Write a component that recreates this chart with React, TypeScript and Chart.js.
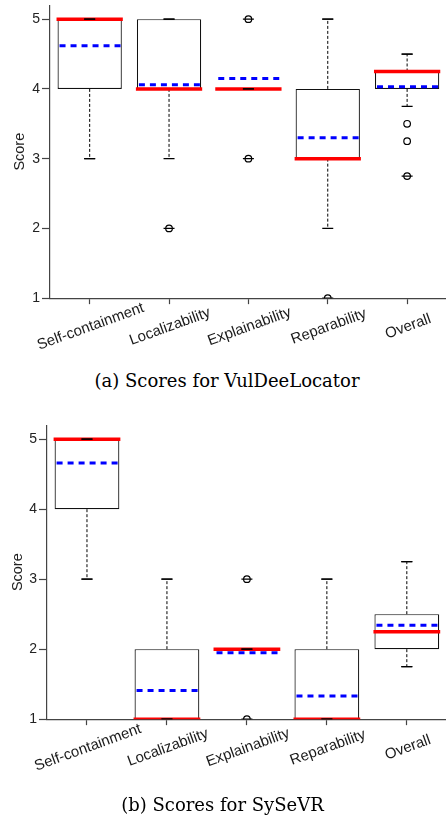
import React, { useEffect, useRef } from "react";
import { Chart, registerables } from "chart.js";
Chart.register(...registerables);

const categories = ["Self-containment", "Localizability", "Explainability", "Reparability", "Overall"];
const yTickValues = [1, 2, 3, 4, 5];

// (a) VulDeeLocator
const vdlQ1 = [4, 4, 4, 3, 4];
const vdlQ3 = [5, 5, 4, 4, 4.25];
const vdlMedian = [5, 4, 4, 3, 4.25];
const vdlMean = [4.62, 4.06, 4.15, 3.3, 4.03];
const vdlWhiskerLow = [3, 3, 4, 2, 3.75];
const vdlWhiskerHigh = [5, 5, 4, 5, 4.5];
const vdlMin = [3, 2, 3, 1, 2.75];
const vdlMax = [5, 5, 5, 5, 4.5];
const vdlOutliers = [[], [2], [5, 3], [1], [3.5, 3.25, 2.75]];

// (b) SySeVR
const ssvQ1 = [4, 1, 2, 1, 2];
const ssvQ3 = [5, 2, 2, 2, 2.5];
const ssvMedian = [5, 1, 2, 1, 2.25];
const ssvMean = [4.66, 1.41, 1.95, 1.33, 2.34];
const ssvWhiskerLow = [3, 1, 2, 1, 1.75];
const ssvWhiskerHigh = [5, 3, 2, 3, 3.25];
const ssvMin = [3, 1, 1, 1, 1.75];
const ssvMax = [5, 3, 3, 3, 3.25];
const ssvOutliers = [[], [], [3, 1], [], []];

const SANS = '"Liberation Sans", Arial, Helvetica, sans-serif';
const AXIS = "#444";

type Stats = {
  q1: number[]; q3: number[]; median: number[]; mean: number[];
  wLow: number[]; wHigh: number[]; min: number[]; max: number[]; outliers: number[][];
};

type Geo = { axisX: number; padTop: number; padRight: number; width: number; height: number; plotH: number; titlePad: number };

function BoxChart({ stats, geo, top }: { stats: Stats; geo: Geo; top: number }) {
  const ref = useRef<HTMLCanvasElement | null>(null);
  useEffect(() => {
    if (!ref.current) return;
    const boxParts = {
      id: "boxParts",
      afterDatasetsDraw(chart: any) {
        const { ctx, chartArea, scales } = chart;
        const x = scales.x, y = scales.y;
        const meta = chart.getDatasetMeta(0);
        ctx.save();
        ctx.beginPath();
        ctx.rect(chartArea.left, chartArea.top - 10, chartArea.right - chartArea.left, chartArea.bottom - chartArea.top + 10);
        ctx.clip();
        categories.forEach((_, i) => {
          const cx = x.getPixelForValue(i);
          const half = meta.data[i].width / 2;
          const line = (x0: number, y0: number, x1: number, y1: number) => {
            ctx.beginPath(); ctx.moveTo(x0, y0); ctx.lineTo(x1, y1); ctx.stroke();
          };
          // whiskers
          ctx.strokeStyle = "#000"; ctx.lineWidth = 1; ctx.setLineDash([3, 2]);
          line(cx, y.getPixelForValue(stats.q1[i]), cx, y.getPixelForValue(stats.wLow[i]));
          line(cx, y.getPixelForValue(stats.q3[i]), cx, y.getPixelForValue(stats.wHigh[i]));
          // median
          ctx.setLineDash([]); ctx.strokeStyle = "#ff0000"; ctx.lineWidth = 3.5;
          const ym = y.getPixelForValue(stats.median[i]);
          line(cx - half - 1, ym, cx + half + 1, ym);
          // mean
          ctx.setLineDash([6, 5]); ctx.strokeStyle = "#0000ff"; ctx.lineWidth = 3;
          const ya = y.getPixelForValue(stats.mean[i]);
          line(cx - half + 2, ya, cx + half, ya);
          // caps
          ctx.setLineDash([]); ctx.strokeStyle = "#000"; ctx.lineWidth = 1.3;
          [stats.wLow[i], stats.wHigh[i], stats.min[i], stats.max[i]].forEach((v) => {
            const yy = y.getPixelForValue(v);
            line(cx - 5.5, yy, cx + 5.5, yy);
          });
        });
        ctx.restore();
      },
    };
    const xLabels = {
      id: "xLabels",
      afterDraw(chart: any) {
        const { ctx, chartArea, scales } = chart;
        ctx.save();
        ctx.font = `15px ${SANS}`;
        ctx.fillStyle = "#1a1a1a";
        ctx.textAlign = "center";
        ctx.textBaseline = "middle";
        categories.forEach((c, i) => {
          const px = scales.x.getPixelForValue(i);
          ctx.save();
          ctx.translate(px + 1, chartArea.bottom + 28.5);
          ctx.rotate((-20 * Math.PI) / 180);
          ctx.fillText(c, 0, 0);
          ctx.restore();
        });
        ctx.restore();
      },
    };
    const outlierPts: any[] = [];
    stats.outliers.forEach((arr, i) => arr.forEach((v) => outlierPts.push({ x: categories[i], y: v })));
    const chart = new Chart(ref.current, {
      type: "bar",
      data: {
        labels: categories,
        datasets: [
          {
            type: "bar",
            data: stats.q1.map((v, i) => [v, stats.q3[i]]),
            backgroundColor: "#ffffff",
            borderColor: "#111",
            borderWidth: 1.2,
            borderSkipped: false,
            categoryPercentage: 0.81,
            barPercentage: 1,
            order: 2,
          } as any,
          {
            type: "line",
            data: outlierPts,
            showLine: false,
            pointStyle: "circle",
            pointRadius: 3.3,
            pointBorderWidth: 1.2,
            pointBorderColor: "#000",
            pointBackgroundColor: "rgba(0,0,0,0)",
            order: 1,
          } as any,
        ],
      },
      options: {
        responsive: false,
        animation: false,
        layout: { padding: { top: geo.padTop, right: geo.padRight, left: 0, bottom: 0 } },
        plugins: { legend: { display: false }, tooltip: { enabled: false } },
        scales: {
          x: {
            type: "category",
            offset: true,
            grid: { display: true, offset: false, drawOnChartArea: false, drawTicks: true, tickLength: 6, tickColor: AXIS, tickWidth: 1.2 },
            border: { display: true, color: AXIS, width: 1.2 },
            ticks: { display: false },
            afterFit: (s: any) => {
              s.height = geo.height - geo.padTop - geo.plotH;
              s.paddingLeft = 0; s.paddingRight = 0;
            },
          },
          y: {
            type: "linear",
            min: 1,
            max: 5.2,
            afterBuildTicks: (s: any) => { s.ticks = yTickValues.map((v) => ({ value: v })); },
            ticks: { font: { family: SANS, size: 14 }, color: "#222", padding: 2 },
            grid: { drawOnChartArea: false, tickLength: 8, tickColor: AXIS, tickWidth: 1.2 },
            border: { display: true, color: AXIS, width: 1.2 },
            title: { display: true, text: "Score", font: { family: SANS, size: 14.5 }, color: "#222", padding: { top: geo.titlePad, bottom: 0 } },
            afterFit: (s: any) => { s.width = geo.axisX; s.paddingTop = 0; s.paddingBottom = 0; },
          },
        },
      } as any,
      plugins: [boxParts, xLabels],
    });
    return () => chart.destroy();
  }, []);
  return (
    <canvas
      ref={ref}
      width={geo.width}
      height={geo.height}
      style={{ position: "absolute", left: 0, top, width: geo.width, height: geo.height }}
    />
  );
}

const captionStyle: React.CSSProperties = {
  position: "absolute",
  fontFamily: '"DejaVu Serif", "Liberation Serif", serif',
  fontSize: 18,
  lineHeight: "22px",
  textAlign: "center",
  color: "#000",
  whiteSpace: "nowrap",
};

export default function App() {
  const statsA: Stats = { q1: vdlQ1, q3: vdlQ3, median: vdlMedian, mean: vdlMean, wLow: vdlWhiskerLow, wHigh: vdlWhiskerHigh, min: vdlMin, max: vdlMax, outliers: vdlOutliers };
  const statsB: Stats = { q1: ssvQ1, q3: ssvQ3, median: ssvMedian, mean: ssvMean, wLow: ssvWhiskerLow, wHigh: ssvWhiskerHigh, min: ssvMin, max: ssvMax, outliers: ssvOutliers };
  const geoA: Geo = { axisX: 50, padTop: 1, padRight: 2, width: 452, height: 370, plotH: 297.15, titlePad: 11.3 };
  const geoB: Geo = { axisX: 47, padTop: 2, padRight: 5, width: 452, height: 380, plotH: 297.15, titlePad: 8.8 };
  return (
    <div style={{ position: "absolute", left: 0, top: 0, width: 446, height: 818, overflow: "hidden", background: "#fff" }}>
      <BoxChart stats={statsA} geo={geoA} top={0} />
      <div style={{ ...captionStyle, left: 0, width: 454, top: 370 }}>(a) Scores for VulDeeLocator</div>
      <BoxChart stats={statsB} geo={geoB} top={420} />
      <div style={{ ...captionStyle, left: 0, width: 445, top: 794 }}>(b) Scores for SySeVR</div>
    </div>
  );
}
